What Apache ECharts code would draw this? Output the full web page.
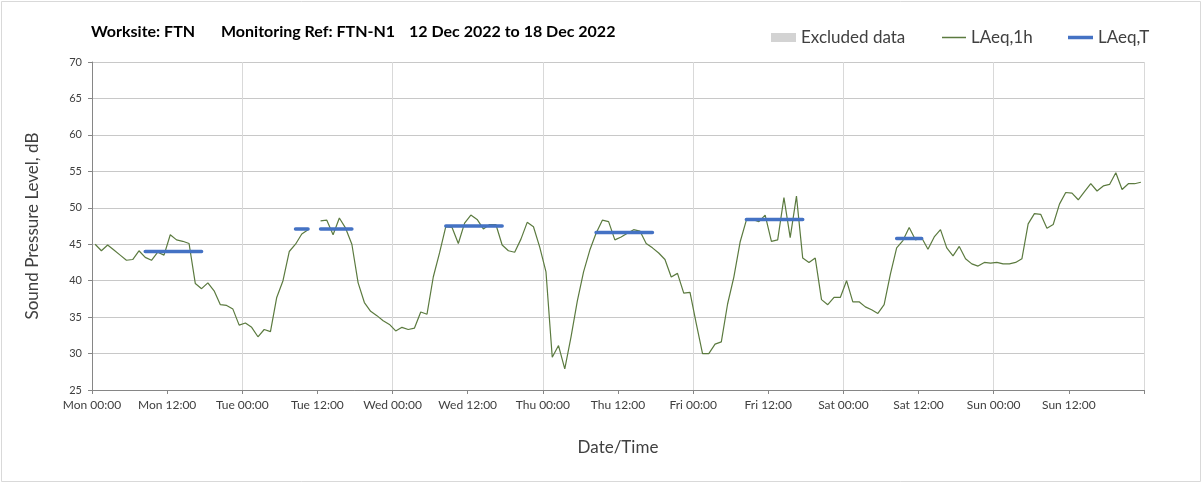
<!DOCTYPE html>
<html>
<head>
<meta charset="utf-8">
<title>FTN-N1 noise monitoring</title>
<script src="https://cdn.jsdelivr.net/npm/echarts@6/dist/echarts.min.js"></script>
<style>
  html, body { margin: 0; padding: 0; background: #fff; }
  #main { width: 1203px; height: 484px; }
</style>
</head>
<body>
<div id="main"></div>
<script>
// hourly LAeq,1h from Mon 00:00, one value per hour (null = no data)
const levels = [
  45.0, 44.1, 44.9, 44.2, 43.5, 42.8, 42.9, 44.1, 43.2, 42.8, 43.9, 43.5,
  46.3, 45.6, 45.4, 45.1, 39.6, 38.9, 39.7, 38.6, 36.7, 36.6, 36.1, 33.9,
  34.2, 33.6, 32.3, 33.3, 33.0, 37.7, 40.0, 44.0, 45.0, 46.4, 47.0, null,
  48.2, 48.3, 46.3, 48.6, 47.2, 45.0, 39.7, 37.0, 35.8, 35.2, 34.5, 34.0,
  33.1, 33.6, 33.3, 33.5, 35.7, 35.4, 40.5, 43.8, 47.4, 47.3, 45.1, 47.9,
  49.0, 48.4, 47.1, 47.7, 47.7, 44.9, 44.1, 43.9, 45.7, 48.0, 47.4, 44.6,
  41.2, 29.5, 31.1, 27.9, 32.3, 37.2, 41.2, 44.2, 46.5, 48.3, 48.1, 45.6,
  46.0, 46.5, 47.0, 46.8, 45.1, 44.5, 43.8, 42.9, 40.5, 41.0, 38.3, 38.4,
  34.1, 30.0, 30.0, 31.3, 31.6, 36.8, 40.5, 45.3, 48.3, 48.4, 48.1, 49.0,
  45.4, 45.6, 51.4, 45.9, 51.6, 43.1, 42.5, 43.1, 37.4, 36.7, 37.7, 37.7,
  40.0, 37.1, 37.1, 36.4, 36.0, 35.5, 36.7, 40.9, 44.5, 45.5, 47.3, 45.6,
  45.9, 44.3, 46.0, 47.0, 44.5, 43.4, 44.7, 43.0, 42.3, 42.0, 42.5, 42.4,
  42.5, 42.3, 42.3, 42.5, 43.0, 47.8, 49.2, 49.1, 47.2, 47.7, 50.5, 52.1,
  52.0, 51.1, 52.2, 53.3, 52.3, 53.0, 53.2, 54.8, 52.5, 53.3, 53.3, 53.5
];

// LAeq,T periods (first and last hour index, level)
const periodStart = [8, 32, 36, 56, 80, 104, 128];
const periodEnd   = [17, 34, 41, 65, 89, 113, 132];
const periodLevel = [44.0, 47.1, 47.1, 47.5, 46.6, 48.4, 45.8];

const tickLabels = [
  'Mon 00:00', 'Mon 12:00', 'Tue 00:00', 'Tue 12:00', 'Wed 00:00', 'Wed 12:00',
  'Thu 00:00', 'Thu 12:00', 'Fri 00:00', 'Fri 12:00', 'Sat 00:00', 'Sat 12:00',
  'Sun 00:00', 'Sun 12:00'
];

const font = 'Lato, "Open Sans", sans-serif';
const textCol = '#404040';

// each hourly value sits in the middle of its hour
const hourlyData = levels.map((v, i) => [i + 0.5, v == null ? '-' : v]);

const periodLevels = levels.map(() => null);
periodStart.forEach((s, k) => {
  for (let h = s; h <= periodEnd[k]; h++) periodLevels[h] = periodLevel[k];
});
const periodData = periodLevels.map((v, i) => [i + 0.5, v == null ? '-' : v]);

let myChart = echarts.init(document.getElementById('main'));

const legendText = { fontFamily: font, fontSize: 17, color: textCol };
const titleFont = 'bold 16px ' + font;

let option = {
  animation: false,
  backgroundColor: '#fff',
  graphic: [
    { type: 'rect', shape: { x: 1.5, y: 1.5, width: 1199, height: 480 },
      style: { fill: 'none', stroke: '#d9d9d9', lineWidth: 1 }, silent: true },
    { type: 'text', left: 91, top: 24,
      style: { text: 'Worksite: FTN', font: titleFont, fill: '#000' } },
    { type: 'text', left: 221, top: 24,
      style: { text: 'Monitoring Ref: FTN-N1', font: titleFont, fill: '#000' } },
    { type: 'text', left: 409, top: 24,
      style: { text: '12 Dec 2022 to 18 Dec 2022', font: titleFont, fill: '#000' } }
  ],
  legend: [
    { data: ['Excluded data'], left: 771, top: 29, padding: 0, icon: 'rect',
      itemWidth: 25, itemHeight: 9, textStyle: legendText, selectedMode: false },
    { data: ['LAeq,1h'], left: 942, top: 29, padding: 0, icon: 'rect',
      itemWidth: 24, itemHeight: 1.5, textStyle: legendText, selectedMode: false },
    { data: ['LAeq,T'], left: 1068, top: 29, padding: 0, icon: 'rect',
      itemWidth: 25, itemHeight: 3.5, textStyle: legendText, selectedMode: false }
  ],
  grid: { left: 92, right: 59, top: 62, bottom: 94 },
  xAxis: {
    type: 'value',
    min: 0,
    max: 168,
    interval: 12,
    name: 'Date/Time',
    nameLocation: 'middle',
    nameGap: 49,
    nameTextStyle: { fontFamily: font, fontSize: 17, color: textCol },
    axisLine: { lineStyle: { color: '#868686', width: 1 } },
    axisTick: { show: true, length: 4, lineStyle: { color: '#868686' } },
    axisLabel: {
      margin: 9, fontFamily: font, fontSize: 12, color: textCol,
      formatter: v => tickLabels[v / 12] || ''
    },
    // gridlines only at midnight
    splitLine: { show: true, lineStyle: { color: ['#d9d9d9', 'rgba(0,0,0,0)'], width: 1 } }
  },
  yAxis: {
    type: 'value',
    min: 25,
    max: 70,
    interval: 5,
    name: 'Sound Pressure Level, dB',
    nameLocation: 'middle',
    nameGap: 51,
    nameTextStyle: { fontFamily: font, fontSize: 17, color: textCol },
    axisLine: { show: true, lineStyle: { color: '#868686', width: 1 } },
    axisTick: { show: true, length: 4, lineStyle: { color: '#868686' } },
    axisLabel: { margin: 10, fontFamily: font, fontSize: 11, color: textCol },
    splitLine: { show: true, lineStyle: { color: '#c8c8c8', width: 1 } }
  },
  series: [
    {
      name: 'Excluded data',
      type: 'line',
      data: [],
      itemStyle: { color: '#d3d3d3' }
    },
    {
      name: 'LAeq,1h',
      type: 'line',
      data: hourlyData,
      showSymbol: false,
      connectNulls: false,
      itemStyle: { color: '#5b7a3f' },
      lineStyle: { color: '#5b7a3f', width: 1.2 },
      z: 3
    },
    {
      name: 'LAeq,T',
      type: 'line',
      data: periodData,
      showSymbol: false,
      connectNulls: false,
      itemStyle: { color: '#4472c4' },
      lineStyle: { color: '#4472c4', width: 3.5, cap: 'round' },
      z: 4
    }
  ]
};

myChart.setOption(option);
</script>
</body>
</html>
